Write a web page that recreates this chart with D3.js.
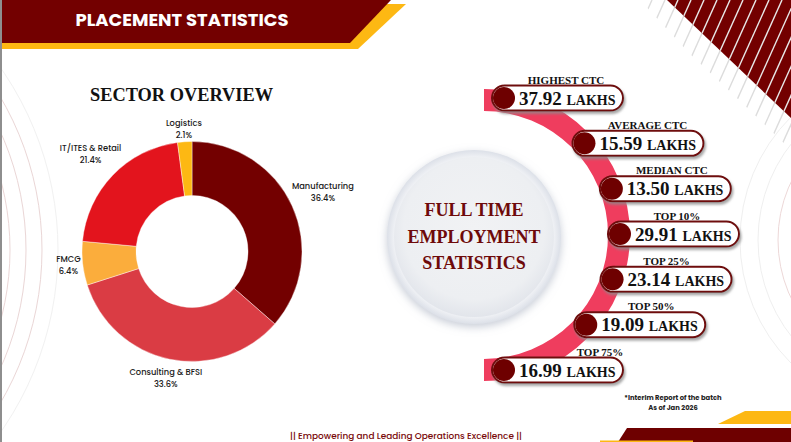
<!DOCTYPE html>
<html>
<head>
<meta charset="utf-8">
<script src="https://cdn.jsdelivr.net/npm/d3@7"></script>
<style>
  html, body { margin: 0; padding: 0; background: #fff; }
  svg { display: block; }
</style>
</head>
<body>
<svg id="chart" width="791" height="442"></svg>
<script>
// ---------- DATA ----------
const sectors = ["Manufacturing", "Consulting & BFSI", "FMCG", "IT/ITES & Retail", "Logistics"];
const shares = [36.4, 33.6, 6.4, 21.4, 2.1];
const sectorColors = ["#730000", "#DA3C44", "#FBAD3C", "#E3141D", "#FDB813"];

const statLabels = ["HIGHEST CTC", "AVERAGE CTC", "MEDIAN CTC", "TOP 10%", "TOP 25%", "TOP 50%", "TOP 75%"];
const statValues = [37.92, 15.59, 13.50, 29.91, 23.14, 19.09, 16.99];
const statUnit = "LAKHS";

const titleText = "PLACEMENT STATISTICS";
const sectorTitle = "SECTOR OVERVIEW";
const centerLines = ["FULL TIME", "EMPLOYMENT", "STATISTICS"];
const noteLines = ["*Interim Report of the batch", "As of Jan 2026"];
const footerText = "|| Empowering and Leading Operations Excellence ||";

// ---------- SETUP ----------
const svg = d3.select("#chart");
const W = 791, H = 442;
const SERIF = "'Liberation Serif', 'DejaVu Serif', serif";
const SANS = "Poppins, Inter, 'Noto Sans', sans-serif";

const defs = svg.append("defs");
const pillShadow = defs.append("filter").attr("id", "pillShadow")
  .attr("x", "-20%").attr("y", "-40%").attr("width", "140%").attr("height", "200%");
pillShadow.append("feDropShadow").attr("dx", 1.5).attr("dy", 2.5)
  .attr("stdDeviation", 1.2).attr("flood-color", "#8a8a8a").attr("flood-opacity", 0.75);

const discShadow = defs.append("filter").attr("id", "discShadow")
  .attr("x", "-30%").attr("y", "-30%").attr("width", "160%").attr("height", "160%");
discShadow.append("feDropShadow").attr("dx", 0).attr("dy", 3)
  .attr("stdDeviation", 4).attr("flood-color", "#9aa3b5").attr("flood-opacity", 0.55);

const faceGrad = defs.append("radialGradient").attr("id", "faceGrad")
  .attr("cx", "50%").attr("cy", "45%").attr("r", "55%");
faceGrad.append("stop").attr("offset", "0%").attr("stop-color", "#F1F2F4");
faceGrad.append("stop").attr("offset", "80%").attr("stop-color", "#EDEFF2");
faceGrad.append("stop").attr("offset", "100%").attr("stop-color", "#E2E5EB");

const rimGrad = defs.append("radialGradient").attr("id", "rimGrad")
  .attr("cx", "50%").attr("cy", "50%").attr("r", "50%");
rimGrad.append("stop").attr("offset", "85%").attr("stop-color", "#FFFFFF");
rimGrad.append("stop").attr("offset", "100%").attr("stop-color", "#DCE0E8");

// ---------- BACKGROUND DECOR ----------
const deco = svg.append("g");
// faint concentric arcs, left and right
[270, 286, 302, 318].forEach((r, i) => {
  deco.append("circle").attr("cx", -260).attr("cy", 250).attr("r", r)
    .attr("fill", "none").attr("stroke", i < 3 ? "#EAD6D6" : "#F1F1F1").attr("stroke-width", 1);
});
[136, 156, 174].forEach((r, i) => {
  deco.append("circle").attr("cx", 914).attr("cy", 240).attr("r", r)
    .attr("fill", "none").attr("stroke", i === 0 ? "#EDD8D8" : "#EFEFEF").attr("stroke-width", 1);
});

// top-right striped triangle
defs.append("clipPath").attr("id", "bandClip").append("polygon")
  .attr("points", "640,0 791,0 791,150 760,120 720,82 690,54");
defs.append("clipPath").attr("id", "triClip").append("polygon")
  .attr("points", "667,0 791,0 791,118");
const stripeStarts = d3.range(600, 960, 13);
const stripes = (g, color) => g.selectAll("line").data(stripeStarts).join("line")
  .attr("x1", d => d).attr("y1", 0)
  .attr("x2", d => d - 0.45 * 200).attr("y2", 200)
  .attr("stroke", color).attr("stroke-width", 1.4);
stripes(deco.append("g").attr("clip-path", "url(#bandClip)"), "#DCDCDC");
deco.append("polygon").attr("points", "667,0 791,0 791,118").attr("fill", "#730000");
stripes(deco.append("g").attr("clip-path", "url(#triClip)"), "#E9E9E9");

// bottom-right bars
deco.append("polygon").attr("points", "745,411 791,411 791,424 718,424").attr("fill", "#FDB813");
deco.append("polygon").attr("points", "627,428 791,428 791,442 618,442").attr("fill", "#6E0000");
deco.append("rect").attr("x", 600).attr("y", 440.5).attr("width", 93).attr("height", 1.5).attr("fill", "#FDB813");

// header banner
deco.append("polygon").attr("points", "0,49 358,49 406,4 388,4 0,4").attr("fill", "#FDB813");
deco.append("polygon").attr("points", "0,0 391,0 350,43 0,43").attr("fill", "#730000");
svg.append("text").attr("x", 182).attr("y", 26)
  .attr("text-anchor", "middle").attr("fill", "#fff")
  .attr("font-family", SANS).attr("font-weight", 700).attr("font-size", 17)
  .attr("textLength", 213).attr("lengthAdjust", "spacingAndGlyphs")
  .text(titleText);

// ---------- SECTOR DONUT ----------
svg.append("text").attr("x", 181.5).attr("y", 101)
  .attr("text-anchor", "middle").attr("fill", "#111")
  .attr("font-family", SERIF).attr("font-weight", 700).attr("font-size", 19)
  .attr("textLength", 183).attr("lengthAdjust", "spacingAndGlyphs")
  .text(sectorTitle);

const cx = 192, cy = 251.5, rOuter = 110, rInner = 56;
const pie = d3.pie().sort(null).value(d => d);
const arcs = pie(shares);
const arcGen = d3.arc().innerRadius(rInner).outerRadius(rOuter);
const color = d3.scaleOrdinal().domain(sectors).range(sectorColors);

const donut = svg.append("g").attr("transform", `translate(${cx},${cy})`);
donut.selectAll("path").data(arcs).join("path")
  .attr("d", arcGen)
  .attr("fill", (d, i) => color(sectors[i]))
  .attr("stroke", "#fff").attr("stroke-width", 0.4);

const pct = d3.format(".1f");
const labelG = donut.selectAll("g.lbl").data(arcs).join("g").attr("class", "lbl");
labelG.each(function (d, i) {
  const g = d3.select(this);
  const t1 = g.append("text").attr("text-anchor", "middle").attr("y", -2)
    .attr("font-family", SANS).attr("font-weight", 500).attr("font-size", 8.3).attr("fill", "#1a1a1a")
    .text(sectors[i]);
  g.append("text").attr("text-anchor", "middle").attr("y", 10)
    .attr("font-family", SANS).attr("font-weight", 500).attr("font-size", 8.3).attr("fill", "#1a1a1a")
    .text(pct(d.data) + "%");
  const w = t1.node().getComputedTextLength() / 2;
  const a = (d.startAngle + d.endAngle) / 2;
  const ux = Math.sin(a), uy = -Math.cos(a);
  const dist = rOuter + 1 + w * Math.abs(ux) + 11 * Math.abs(uy);
  g.attr("transform", `translate(${ux * dist},${uy * dist - 1})`);
});

// ---------- EMPLOYMENT STATS ----------
const acx = 484, acy = 235;
// pink arc band
svg.append("path")
  .attr("transform", `translate(${acx},${acy})`)
  .attr("d", d3.arc().innerRadius(124).outerRadius(146).startAngle(0).endAngle(Math.PI)())
  .attr("fill", "#EF3D5E");

// center disc
const disc = svg.append("g").attr("transform", "translate(474,237)");
disc.append("circle").attr("r", 87).attr("fill", "url(#rimGrad)").attr("filter", "url(#discShadow)");
disc.append("circle").attr("r", 80).attr("fill", "url(#faceGrad)");
disc.selectAll("text").data(centerLines).join("text")
  .attr("text-anchor", "middle")
  .attr("y", (d, i) => -21 + i * 26.5)
  .attr("font-family", SERIF).attr("font-weight", 700).attr("font-size", 18)
  .attr("fill", "#6E0A0A")
  .text(d => d);

// pills positioned along the arc
const yPos = d3.scalePoint().domain(statLabels).range([98, 370]);
const R = 136;
const xOnArc = y => acx + Math.max(20, Math.sqrt(Math.max(0, R * R - (y - acy) * (y - acy))));
const labelShift = [74, 75, 72, 69, 66, 77, 108];
const pillW = 131, pillH = 25;
const valFmt = d3.format(".2f");

const pills = svg.append("g").selectAll("g.pill").data(statLabels).join("g")
  .attr("class", "pill")
  .attr("transform", d => `translate(${xOnArc(yPos(d))},${yPos(d)})`);

pills.append("rect")
  .attr("x", -12).attr("y", -pillH / 2).attr("width", pillW).attr("height", pillH)
  .attr("rx", pillH / 2).attr("ry", pillH / 2)
  .attr("fill", "#fff").attr("stroke", "#6E0A0A").attr("stroke-width", 2)
  .attr("filter", "url(#pillShadow)");
pills.append("circle").attr("r", 11).attr("fill", "#6E0000");

const valText = pills.append("text")
  .attr("x", 15).attr("y", 6.5)
  .attr("font-family", SERIF).attr("font-weight", 700).attr("fill", "#111");
valText.append("tspan").attr("font-size", 19).text((d, i) => valFmt(statValues[i]) + " ");
valText.append("tspan").attr("font-size", 14).text(statUnit);

pills.append("text")
  .attr("x", (d, i) => -12 + labelShift[i]).attr("y", -pillH / 2 - 2)
  .attr("text-anchor", "middle")
  .attr("font-family", SERIF).attr("font-weight", 700).attr("font-size", 11).attr("fill", "#111")
  .text(d => d);

// ---------- NOTES ----------
svg.append("g").selectAll("text").data(noteLines).join("text")
  .attr("x", 673).attr("y", (d, i) => 400 + i * 9.5)
  .attr("text-anchor", "middle")
  .attr("font-family", SANS).attr("font-weight", 700).attr("font-size", 6.8).attr("fill", "#222")
  .text(d => d);

svg.append("text").attr("x", 406).attr("y", 439)
  .attr("text-anchor", "middle")
  .attr("font-family", SANS).attr("font-weight", 500).attr("font-size", 9.5).attr("fill", "#7A0A0A")
  .attr("textLength", 232).attr("lengthAdjust", "spacingAndGlyphs")
  .text(footerText);

// left gray border
svg.append("rect").attr("x", 0).attr("y", 0).attr("width", 2).attr("height", H).attr("fill", "#8E8E8E");
</script>
</body>
</html>
